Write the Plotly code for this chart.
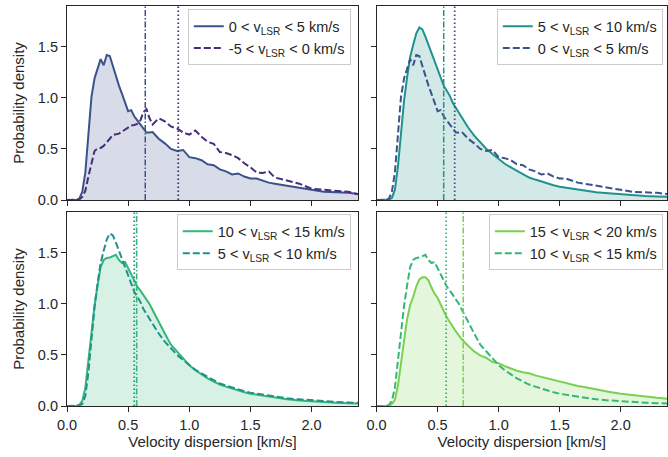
import plotly.graph_objects as go

# ---- data ----
vel = [0.0, 0.05, 0.075, 0.1, 0.125, 0.15, 0.175, 0.2, 0.225, 0.25, 0.275, 0.3, 0.325, 0.35,
       0.375, 0.4, 0.425, 0.45, 0.475, 0.5, 0.525, 0.55, 0.575, 0.6, 0.625, 0.65, 0.675, 0.7,
       0.75, 0.8, 0.85, 0.9, 0.95, 1.0, 1.05, 1.1, 1.15, 1.2, 1.25, 1.3, 1.35, 1.4, 1.45, 1.5,
       1.55, 1.6, 1.65, 1.7, 1.8, 1.9, 2.0, 2.1, 2.2, 2.3, 2.4]

dens_m5_0 = [0, 0, 0, 0.005, 0.03, 0.09, 0.23, 0.36, 0.48, 0.505, 0.51, 0.53, 0.56, 0.6,
             0.637, 0.645, 0.65, 0.67, 0.69, 0.715, 0.73, 0.735, 0.745, 0.78, 0.86, 0.89, 0.8, 0.74,
             0.8, 0.77, 0.72, 0.7, 0.66, 0.64, 0.68, 0.62, 0.57, 0.55, 0.47, 0.46, 0.44, 0.41, 0.36, 0.32,
             0.27, 0.265, 0.28, 0.22, 0.19, 0.16, 0.11, 0.1, 0.095, 0.08, 0.05]

dens_0_5 = [0, 0, 0, 0.01, 0.08, 0.27, 0.66, 1.01, 1.19, 1.28, 1.38, 1.32, 1.42, 1.41,
            1.31, 1.22, 1.12, 1.04, 0.95, 0.87, 0.88, 0.82, 0.78, 0.74, 0.70, 0.66, 0.66, 0.665,
            0.6, 0.555, 0.5, 0.48, 0.49, 0.42, 0.41, 0.39, 0.35, 0.34, 0.30, 0.28, 0.25, 0.26, 0.23, 0.21,
            0.21, 0.19, 0.17, 0.16, 0.14, 0.12, 0.095, 0.08, 0.075, 0.07, 0.055]

dens_5_10 = [0, 0, 0, 0.005, 0.02, 0.1, 0.33, 0.65, 0.97, 1.2, 1.4, 1.52, 1.63, 1.69,
             1.67, 1.60, 1.52, 1.44, 1.35, 1.27, 1.19, 1.12, 1.07, 1.02, 0.95, 0.9, 0.85, 0.8,
             0.71, 0.63, 0.56, 0.5, 0.45, 0.4, 0.355, 0.32, 0.285, 0.25, 0.22, 0.2, 0.18, 0.16, 0.145, 0.13,
             0.12, 0.11, 0.1, 0.09, 0.075, 0.065, 0.055, 0.047, 0.04, 0.035, 0.03]

dens_10_15 = [0, 0, 0, 0.01, 0.05, 0.18, 0.45, 0.72, 0.98, 1.18, 1.36, 1.43, 1.45, 1.455,
              1.47, 1.48, 1.43, 1.40, 1.41, 1.35, 1.28, 1.22, 1.17, 1.13, 1.09, 1.05, 1.0, 0.94,
              0.82, 0.71, 0.6, 0.53, 0.46, 0.40, 0.35, 0.31, 0.27, 0.24, 0.21, 0.19, 0.17, 0.15, 0.135, 0.12,
              0.11, 0.1, 0.09, 0.08, 0.065, 0.055, 0.045, 0.038, 0.032, 0.028, 0.024]

dens_15_20 = [0, 0, 0, 0.0, 0.02, 0.06, 0.2, 0.4, 0.64, 0.85, 0.99, 1.07, 1.17, 1.24,
              1.26, 1.26, 1.23, 1.16, 1.10, 1.06, 0.99, 0.93, 0.87, 0.82, 0.77, 0.73, 0.69, 0.65,
              0.59, 0.535, 0.495, 0.47, 0.43, 0.42, 0.39, 0.365, 0.345, 0.33, 0.32, 0.3, 0.285, 0.27, 0.25, 0.235,
              0.225, 0.21, 0.195, 0.185, 0.16, 0.14, 0.12, 0.105, 0.09, 0.08, 0.07]

series_names = ["-5 < v<sub>LSR</sub> < 0 km/s", "0 < v<sub>LSR</sub> < 5 km/s",
                "5 < v<sub>LSR</sub> < 10 km/s", "10 < v<sub>LSR</sub> < 15 km/s",
                "15 < v<sub>LSR</sub> < 20 km/s"]
series_dens = [dens_m5_0, dens_0_5, dens_5_10, dens_10_15, dens_15_20]
series_median = [0.91, 0.64, 0.55, 0.57, 0.71]
series_colors = ["#472d7b", "#3b528b", "#21918c", "#35b779", "#7ad151"]
series_fill = ["rgba(71,45,123,0.2)", "rgba(59,82,139,0.2)", "rgba(33,145,140,0.2)",
               "rgba(53,183,121,0.2)", "rgba(122,209,81,0.2)"]

# panel -> (solid series index, dashed series index)
panels = [(1, 0), (2, 1), (3, 2), (4, 3)]

x_ticks = [0.0, 0.5, 1.0, 1.5, 2.0]
y_ticks = [0.0, 0.5, 1.0, 1.5]

FONT = "Liberation Sans, Arial, sans-serif"
TXT = "#262626"

fig = go.Figure()

x_domains = [[0, 0.485], [0.516, 1.0], [0, 0.485], [0.516, 1.0]]
y_domains = [[0.515, 1.0], [0.515, 1.0], [0, 0.485], [0, 0.485]]
legend_pos = [(0.473, 0.992), (0.993, 0.992), (0.473, 0.479), (0.993, 0.479)]

for p, (si, di) in enumerate(panels):
    ax = "" if p == 0 else str(p + 1)
    xa, ya = "x" + ax, "y" + ax
    lg = "legend" if p == 0 else "legend" + str(p + 1)
    # fill under solid
    fig.add_trace(go.Scatter(x=vel, y=series_dens[si], mode="lines", line=dict(width=0),
                             fill="tozeroy", fillcolor=series_fill[si], showlegend=False,
                             hoverinfo="skip", xaxis=xa, yaxis=ya))
    fig.add_trace(go.Scatter(x=vel, y=series_dens[si], mode="lines", name=series_names[si],
                             line=dict(color=series_colors[si], width=2), xaxis=xa, yaxis=ya,
                             legend=lg))
    fig.add_trace(go.Scatter(x=vel, y=series_dens[di], mode="lines", name=series_names[di],
                             line=dict(color=series_colors[di], width=2, dash="7px,3px"),
                             xaxis=xa, yaxis=ya, legend=lg))
    # median lines
    fig.add_shape(type="line", xref=xa, yref=ya + " domain", x0=series_median[si],
                  x1=series_median[si], y0=0, y1=1,
                  line=dict(color=series_colors[si], width=1.5, dash="6px,2px,1.5px,2px"))
    fig.add_shape(type="line", xref=xa, yref=ya + " domain", x0=series_median[di],
                  x1=series_median[di], y0=0, y1=1,
                  line=dict(color=series_colors[di], width=1.8, dash="1.5px,2.5px"))

    axis_common = dict(showline=True, mirror=True, linecolor=TXT, linewidth=1.2,
                       ticks="outside", ticklen=5, tickwidth=1.2, tickcolor=TXT,
                       showgrid=False, zeroline=False, automargin=False,
                       tickfont=dict(family=FONT, size=14.5, color=TXT))
    xkw = dict(axis_common, domain=x_domains[p], range=[0, 2.38], tickvals=x_ticks,
               ticktext=["%.1f" % t for t in x_ticks], anchor=ya,
               showticklabels=(p >= 2))
    if p >= 2:
        xkw["title"] = dict(text="Velocity dispersion [km/s]", standoff=4,
                            font=dict(family=FONT, size=15, color=TXT))
    ykw = dict(axis_common, domain=y_domains[p], range=[0, 1.9], tickvals=y_ticks,
               ticktext=["%.1f" % t for t in y_ticks], anchor=xa,
               showticklabels=(p % 2 == 0))
    if p % 2 == 0:
        ykw["title"] = dict(text="Probability density", standoff=9,
                            font=dict(family=FONT, size=15, color=TXT))
    fig.update_layout({("xaxis" + ax): xkw, ("yaxis" + ax): ykw})

    lx, ly = legend_pos[p]
    fig.update_layout({lg: dict(x=lx, y=ly, xanchor="right", yanchor="top",
                                bgcolor="rgba(255,255,255,0.85)", bordercolor="#cccccc",
                                borderwidth=1, font=dict(family=FONT, size=14.5, color=TXT),
                                itemwidth=30, tracegroupgap=0)})

fig.update_layout(width=668, height=457, margin=dict(l=67, r=1, t=6, b=51),
                  paper_bgcolor="white", plot_bgcolor="white",
                  font=dict(family=FONT, size=14.5, color=TXT))

fig.write_html("out.html", config={"displayModeBar": False},
               post_script="document.body.style.margin='0';document.body.style.padding='0';")
